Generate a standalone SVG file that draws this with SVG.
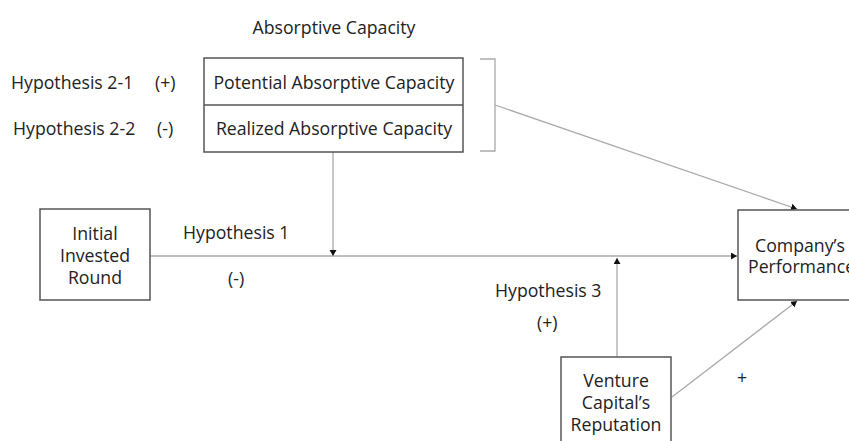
<svg xmlns="http://www.w3.org/2000/svg" width="849" height="441" viewBox="0 0 849 441">
<style>
text{font-family:"Open Sans","Noto Sans","DejaVu Sans",sans-serif;font-size:17.7px;fill:#222}
.c{text-anchor:middle}
.box{fill:#fff;stroke:#555;stroke-width:1.5}
.con{fill:none;stroke:#aaa;stroke-width:1.3}
</style>
<defs>
<marker id="ah" markerUnits="userSpaceOnUse" markerWidth="8" markerHeight="8" refX="6" refY="3.5" orient="auto">
<path d="M0,0 L6,3.5 L0,7 Z" fill="#111"/>
</marker>
</defs>
<g id="connectors">
<path class="con" d="M150,256 H737" marker-end="url(#ah)"/>
<path class="con" d="M333,152 V256" marker-end="url(#ah)"/>
<path class="con" d="M617,357 V258" marker-end="url(#ah)"/>
<path class="con" d="M495,105 L797,209" marker-end="url(#ah)"/>
<path class="con" d="M672,397 L797,301" marker-end="url(#ah)"/>
<path class="con" d="M480,59 H495 V151 H480"/>
</g>
<g id="absorptive-capacity">
<text class="c" x="334" y="34">Absorptive Capacity</text>
<rect class="box" x="204" y="58" width="259" height="94"/>
<line x1="204" y1="105" x2="463" y2="105" stroke="#555" stroke-width="1.5"/>
<text class="c" x="334" y="89">Potential Absorptive Capacity</text>
<text class="c" x="334" y="135">Realized Absorptive Capacity</text>
</g>
<g id="hyp2-labels">
<text x="11" y="89">Hypothesis 2-1</text>
<text x="155" y="89">(+)</text>
<text x="13" y="135">Hypothesis 2-2</text>
<text x="157" y="135">(-)</text>
</g>
<g id="initial">
<rect class="box" x="40" y="209" width="110" height="91"/>
<text class="c" x="95" y="240">Initial</text>
<text class="c" x="95" y="262">Invested</text>
<text class="c" x="95" y="284">Round</text>
</g>
<g id="hyp1-labels">
<text x="183" y="239">Hypothesis 1</text>
<text x="228" y="285">(-)</text>
</g>
<g id="company">
<rect class="box" x="738" y="210" width="130" height="90"/>
<text x="755" y="252">Company’s</text>
<text x="748" y="273">Performance</text>
</g>
<g id="venture">
<rect class="box" x="561" y="357" width="110" height="100"/>
<text class="c" x="616" y="387">Venture</text>
<text class="c" x="616" y="409">Capital’s</text>
<text class="c" x="616" y="431">Reputation</text>
</g>
<g id="hyp3-labels">
<text x="495" y="297">Hypothesis 3</text>
<text x="537" y="329">(+)</text>
<text x="737" y="384">+</text>
</g>
</svg>
